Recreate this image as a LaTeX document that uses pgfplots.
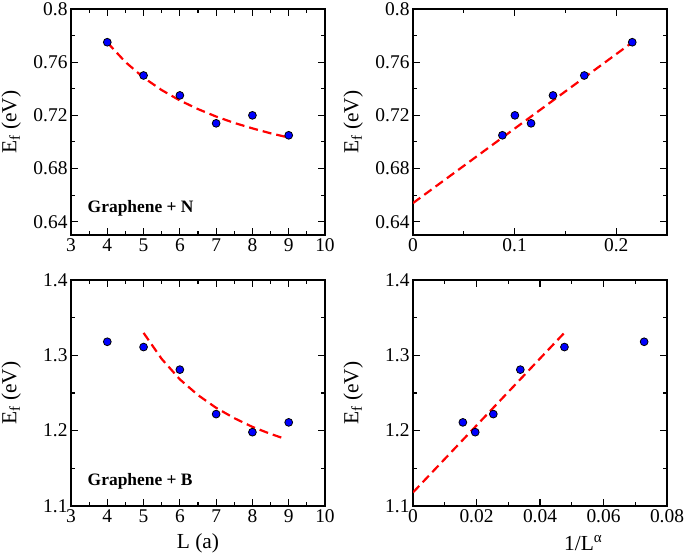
\documentclass[border=0pt]{standalone}
\usepackage{fontspec}
\setmainfont{Liberation Serif}
\usepackage{pgfplots}
\pgfplotsset{compat=1.18}
\pgfplotsset{
  panel/.style={
    scale only axis, width=254bp, height=226bp, anchor=south west,
    axis line style={line width=1.2bp},
    tick align=inside, major tick length=7bp, minor tick length=4bp,
    every tick/.style={line width=1.1bp, black},
    minor x tick num=1, minor y tick num=1,
    scaled ticks=false,
    ticklabel style={font=\fontsize{19.5}{22}\selectfont},
    /pgf/number format/assume math mode=true,
    /pgf/number format/fixed,
    label style={font=\fontsize{21.5}{25}\selectfont},
    ylabel={E\textsubscript{f} (eV)},
    ylabel style={at={(axis description cs:-0.235,0.5)},anchor=center},
    xlabel style={at={(axis description cs:0.5,-0.165)},anchor=center},
  },
  pts/.style={only marks, mark=*, mark size=3.9bp,
    mark options={fill=blue, draw=black, line width=0.8bp}},
  fit/.style={no marks, red, line width=2.2bp, dash pattern=on 9bp off 5bp},
}
\tikzset{lbl/.style={font=\fontsize{17.5}{20}\selectfont\bfseries, anchor=west}}
\begin{document}
\begin{tikzpicture}
\useasboundingbox (0,0) rectangle (685bp,560bp);
% top-left
\begin{axis}[panel, at={(71bp,325bp)},
  xmin=3, xmax=10, ymin=0.63, ymax=0.8,
  xtick={3,4,5,6,7,8,9,10}, ytick={0.64,0.68,0.72,0.76,0.8}]
\addplot[fit] coordinates {(4,0.7748)(4.5,0.7601)(5,0.7484)(5.5,0.7390)(6,0.7312)(6.5,0.7247)(7,0.7191)(7.5,0.7143)(8,0.7102)(8.5,0.7065)(9,0.7033)};
\addplot[pts] coordinates {(4,0.775)(5,0.750)(6,0.735)(7,0.714)(8,0.720)(9,0.705)};
\node[lbl] at (rel axis cs:0.052,0.12) {Graphene + N};
\end{axis}
% top-right
\begin{axis}[panel, at={(413bp,325bp)},
  xmin=0, xmax=0.25, ymin=0.63, ymax=0.8,
  xtick={0,0.1,0.2}, ytick={0.64,0.68,0.72,0.76,0.8}]
\addplot[fit] coordinates {(0,0.654)(0.216,0.775)};
\addplot[pts] coordinates {(0.2158,0.775)(0.1686,0.750)(0.1378,0.735)(0.1162,0.714)(0.1003,0.720)(0.0880,0.705)};
\end{axis}
% bottom-left
\begin{axis}[panel, at={(71bp,54bp)},
  xmin=3, xmax=10, ymin=1.1, ymax=1.4,
  xtick={3,4,5,6,7,8,9,10}, ytick={1.1,1.2,1.3,1.4},
  xlabel={L (a)}]
\addplot[fit] coordinates {(5,1.3298)(5.5,1.2952)(6,1.2681)(6.5,1.2472)(7,1.2303)(7.5,1.2166)(8,1.2050)(8.5,1.1957)(8.8,1.1908)};
\addplot[pts] coordinates {(4,1.318)(5,1.311)(6,1.281)(7,1.222)(8,1.198)(9,1.211)};
\node[lbl] at (rel axis cs:0.052,0.11) {Graphene + B};
\end{axis}
% bottom-right
\begin{axis}[panel, at={(413bp,54bp)},
  xmin=0, xmax=0.08, ymin=1.1, ymax=1.4,
  xtick={0,0.02,0.04,0.06,0.08}, ytick={1.1,1.2,1.3,1.4},
  xlabel={1/L\textsuperscript{α}},
  xlabel style={at={(axis description cs:0.67,-0.165)},anchor=center}]
\addplot[fit] coordinates {(0,1.118)(0.0477,1.330)};
\addplot[pts] coordinates {(0.0157,1.211)(0.0196,1.198)(0.0253,1.222)(0.0338,1.281)(0.0477,1.311)(0.0728,1.318)};
\end{axis}
\end{tikzpicture}
\end{document}
